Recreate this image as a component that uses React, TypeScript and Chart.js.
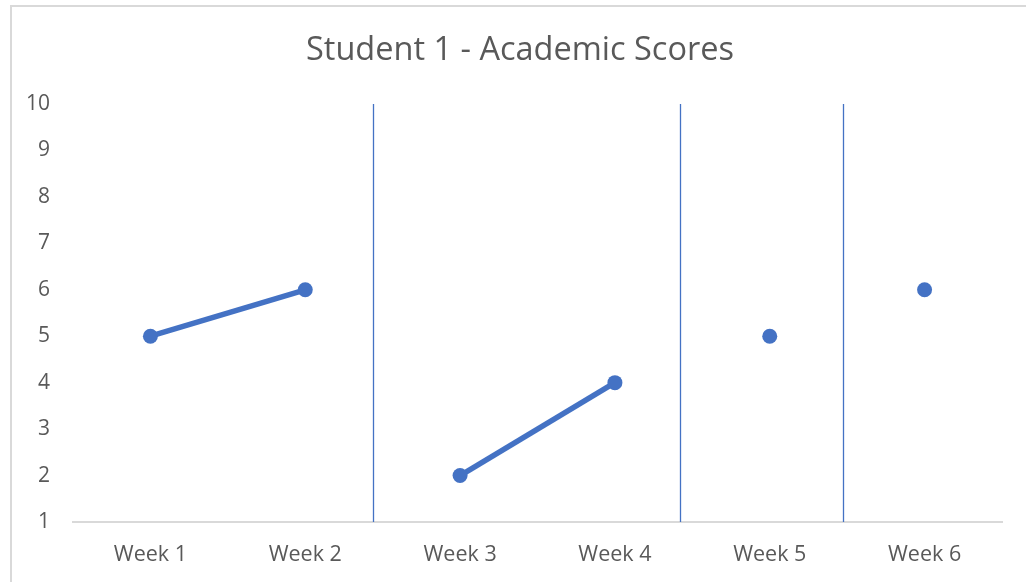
import React, { useEffect, useRef } from "react";
import { Chart, registerables } from "chart.js";

Chart.register(...registerables);

const weeks = ["Week 1", "Week 2", "Week 3", "Week 4", "Week 5", "Week 6"];
const phaseA = [5, 6, null, null, null, null];
const phaseB = [null, null, 2, 4, null, null];
const phaseC = [null, null, null, null, 5, null];
const phaseD = [null, null, null, null, null, 6];
// phase separators, in category-index units
const separators = [1.44, 3.42, 4.475];

const title = "Student 1 - Academic Scores";
const BLUE = "#4472c4";
const TEXT = "#595959";
const FONT = "'Open Sans', sans-serif";

const separatorPlugin = {
  id: "separators",
  afterDatasetsDraw(chart: any) {
    const { ctx, chartArea, scales } = chart;
    ctx.save();
    ctx.strokeStyle = BLUE;
    ctx.lineWidth = 1.3;
    separators.forEach((s) => {
      const x = Math.round(scales.x.getPixelForValue(s)) + 0.5;
      ctx.beginPath();
      ctx.moveTo(x, chartArea.top);
      ctx.lineTo(x, chartArea.bottom);
      ctx.stroke();
    });
    ctx.restore();
  },
};

export default function App() {
  const ref = useRef<HTMLCanvasElement>(null);
  useEffect(() => {
    if (!ref.current) return;
    const mk = (data: (number | null)[]) => ({
      data,
      borderColor: BLUE,
      backgroundColor: BLUE,
      borderWidth: 5.5,
      pointRadius: 7.5,
      pointBorderWidth: 0,
      pointBackgroundColor: BLUE,
      spanGaps: false,
      tension: 0,
      yAxisID: "y",
    });
    const chart = new Chart(ref.current, {
      type: "line",
      data: {
        labels: weeks,
        datasets: [mk(phaseA), mk(phaseB), mk(phaseC), mk(phaseD)],
      },
      options: {
        responsive: false,
        animation: false,
        layout: { padding: { left: 24, right: 10, top: 0, bottom: 0 } },
        plugins: {
          legend: { display: false },
          tooltip: { enabled: false },
          title: {
            display: true,
            text: title,
            color: TEXT,
            font: { family: FONT, size: 32.5, weight: "normal", lineHeight: 1.2 },
            padding: { top: 31, bottom: 34 },
          },
        },
        scales: {
          x: {
            offset: true,
            grid: { display: false, drawTicks: false, offset: true },
            border: { display: true, color: "#d9d9d9", width: 2 },
            ticks: {
              color: TEXT,
              font: { family: FONT, size: 21.5 },
              padding: 20,
              maxRotation: 0,
            },
            afterFit: (s: any) => {
              s.height = 60;
            },
          },
          y: {
            min: 1,
            max: 10,
            grid: { display: false, drawTicks: false },
            border: { display: false },
            ticks: {
              stepSize: 1,
              color: TEXT,
              font: { family: FONT, size: 21 },
              padding: 23,
            },
            afterFit: (s: any) => {
              s.width = 49;
            },
          },
          yRight: {
            position: "right",
            min: 1,
            max: 10,
            grid: { display: false, drawTicks: false },
            border: { display: false },
            ticks: { display: false },
            afterFit: (s: any) => {
              s.width = 14;
            },
          },
        },
      },
      plugins: [separatorPlugin],
    });
    return () => chart.destroy();
  }, []);

  return (
    <div
      style={{
        position: "fixed",
        left: 0,
        top: 0,
        width: 1026,
        height: 582,
        overflow: "hidden",
        background: "#fff",
      }}
    >
      <div
        style={{
          position: "absolute",
          left: 10,
          top: 5,
          width: 1200,
          height: 800,
          borderTop: "2px solid #d9d9d9",
          borderLeft: "2px solid #d9d9d9",
        }}
      />
      <canvas
        ref={ref}
        width={1026}
        height={582}
        style={{ position: "absolute", left: 0, top: 0 }}
      />
    </div>
  );
}
